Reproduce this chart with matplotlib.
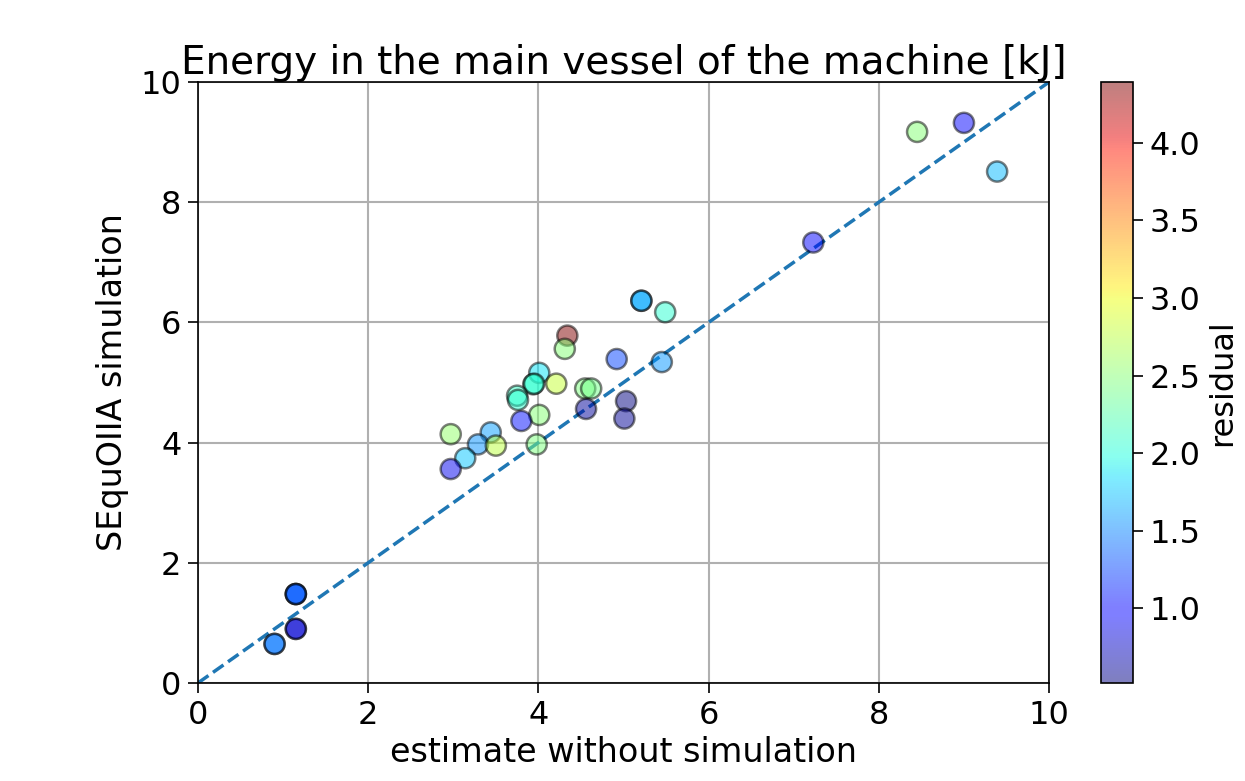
import matplotlib
matplotlib.use("Agg")
import matplotlib.pyplot as plt
import numpy as np

plt.rcParams['font.family'] = ['DejaVu Sans']
plt.rcParams['font.size'] = 23

# estimate without simulation / SEquOIIA simulation / residual
estimate = [0.90, 0.90, 1.15, 1.15, 1.15, 1.15, 1.15,
            5.21, 5.21, 5.49, 4.34, 4.31, 4.92, 5.45, 4.01,
            3.94, 3.95, 4.21, 4.55, 4.62, 3.75, 3.76, 4.56,
            5.03, 5.01, 4.01, 3.80, 2.97, 3.44, 3.29,
            3.50, 3.98, 3.14, 2.97, 8.45, 9.00, 9.39, 7.23]
simulation = [0.65, 0.65, 1.48, 1.48, 1.48, 0.90, 0.90,
              6.36, 6.36, 6.17, 5.78, 5.56, 5.39, 5.34, 5.16,
              4.97, 4.98, 4.98, 4.90, 4.90, 4.78, 4.71, 4.56,
              4.69, 4.40, 4.46, 4.36, 4.14, 4.17, 3.97,
              3.95, 3.97, 3.74, 3.56, 9.17, 9.32, 8.51, 7.33]
residual = [1.45, 1.45, 1.35, 1.35, 1.35, 0.80, 0.80,
            1.65, 1.65, 2.05, 4.39, 2.50, 1.25, 1.57, 1.88,
            2.00, 2.10, 2.80, 2.45, 2.40, 2.10, 2.05, 0.62,
            0.52, 0.60, 2.50, 1.06, 2.55, 1.60, 1.55,
            2.75, 2.45, 1.75, 0.90, 2.50, 1.00, 1.70, 0.95]

fig = plt.figure(figsize=(12.45, 7.81), dpi=100)
ax = fig.add_axes([0.159, 0.1255, 0.6836, 0.7695])
cax = fig.add_axes([0.8845, 0.1255, 0.0255, 0.7695])

ax.grid(True, color="#b0b0b0", linewidth=1.5, zorder=0)
ax.set_axisbelow(True)
ax.plot([0, 10], [0, 10], "--", color="tab:blue", linewidth=2.5, zorder=1)
sc = ax.scatter(estimate, simulation, c=residual, cmap="jet", alpha=0.5,
                s=210, edgecolors="black", linewidths=1.8, zorder=2)

ax.set_xlim(0, 10)
ax.set_ylim(0, 10)
ax.set_xticks([0, 2, 4, 6, 8, 10])
ax.set_yticks([0, 2, 4, 6, 8, 10])
ax.tick_params(length=7, width=1.2, pad=5)
for s in ax.spines.values():
    s.set_linewidth(1.2)
ax.set_xlabel("estimate without simulation", fontsize=24, labelpad=4)
ax.set_ylabel("SEquOIIA simulation", fontsize=24, labelpad=8)
ax.set_title("Energy in the main vessel of the machine [kJ]", fontsize=28, pad=2)

cb = fig.colorbar(sc, cax=cax)
cb.set_label("residual", fontsize=23, labelpad=5)
cb.outline.set_linewidth(1.2)
cax.tick_params(length=7, width=1.2, pad=5)

fig.savefig("out.png", dpi=100)
